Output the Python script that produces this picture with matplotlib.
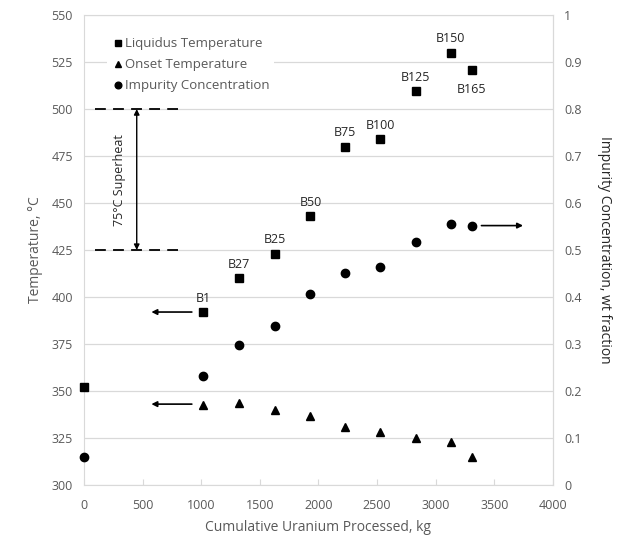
import numpy as np
import matplotlib.pyplot as plt

# data
kg = [0, 1015, 1323, 1629, 1932, 2225, 2527, 2829, 3128, 3308]
liquidus = [352, 392, 410, 423, 443, 480, 484, 509.5, 530, 521]
batch = ['', 'B1', 'B27', 'B25', 'B50', 'B75', 'B100', 'B125', 'B150', 'B165']
onset_kg = [1015, 1323, 1629, 1932, 2225, 2527, 2829, 3128, 3308]
onset = [342.6, 343.8, 340, 336.5, 330.7, 328.2, 325.2, 323, 315]
impurity = [0.059, 0.232, 0.297, 0.338, 0.406, 0.452, 0.464, 0.518, 0.555, 0.552]

gray = '#595959'
plt.rcParams['font.family'] = ['Open Sans', 'DejaVu Sans']

fig = plt.figure(figsize=(6.22, 5.40), dpi=100)
ax = fig.add_axes([0.135, 0.102, 0.754, 0.870])
ax2 = ax.twinx()

ax.set_xlim(0, 4000)
ax.set_ylim(300, 550)
ax2.set_ylim(0, 1)
ax.set_xticks(np.arange(0, 4001, 500))
ax.set_yticks(np.arange(300, 551, 25))
ax2.set_yticks(np.arange(0, 1.01, 0.1))
ax2.set_yticklabels(['0', '0.1', '0.2', '0.3', '0.4', '0.5', '0.6', '0.7', '0.8', '0.9', '1'])

ax.yaxis.grid(True, color='#d9d9d9', lw=0.9)
ax.set_axisbelow(True)
for s in ax.spines.values():
    s.set_color('#d9d9d9')
for k in ('left', 'top', 'bottom'):
    ax2.spines[k].set_visible(False)
ax2.spines['right'].set_color('#d9d9d9')
for a in (ax, ax2):
    a.tick_params(colors=gray, labelsize=9, length=0, pad=8)
ax.tick_params(axis='x', length=4, direction='in', color='#d9d9d9', pad=10)

h1, = ax.plot(kg, liquidus, 's', color='black', ms=6, label='Liquidus Temperature',
              zorder=3, clip_on=False)
h2, = ax.plot(onset_kg, onset, '^', color='black', ms=6, label='Onset Temperature', zorder=3)
h3, = ax2.plot(kg, impurity, 'o', color='black', ms=6, label='Impurity Concentration',
               zorder=3, clip_on=False)

# batch labels
for x, y, b in zip(kg, liquidus, batch):
    if not b:
        continue
    dy = -14 if b == 'B165' else 10
    ax.annotate(b, (x, y), xytext=(0, dy), textcoords='offset points',
                ha='center', va='center', fontsize=9, color='#262626')

# superheat marks
ax.plot([90, 800], [500, 500], color='black', lw=1.3, dashes=(6, 4))
ax.plot([90, 800], [425, 425], color='black', lw=1.3, dashes=(6, 4))
ax.annotate('', xy=(450, 500), xytext=(450, 425),
            arrowprops=dict(arrowstyle='<|-|>', color='black', lw=1, mutation_scale=8,
                            shrinkA=0, shrinkB=0))
ax.text(305, 462, '75°C Superheat', rotation=90, ha='center', va='center', fontsize=9,
        color='#262626')

# axis arrows
arr = dict(arrowstyle='-|>', color='black', lw=1.2, mutation_scale=8, shrinkA=0, shrinkB=0)
ax.annotate('', xy=(575, 392), xytext=(920, 392), arrowprops=arr)
ax.annotate('', xy=(575, 343), xytext=(920, 343), arrowprops=arr)
ax.annotate('', xy=(3745, 438), xytext=(3390, 438), arrowprops=arr)

leg = ax2.legend(handles=[h1, h2, h3], loc='upper left', bbox_to_anchor=(0.035, 0.975),
                 frameon=True, fontsize=9.5, handletextpad=0.1, handlelength=1.0,
                 labelspacing=0.6, borderpad=0.3, markerscale=0.8)
leg.get_frame().set_edgecolor('none')
leg.get_frame().set_facecolor('white')
leg.get_frame().set_alpha(1)
for t in leg.get_texts():
    t.set_color(gray)

ax.set_xlabel('Cumulative Uranium Processed, kg', color=gray, fontsize=10, labelpad=6)
ax.set_ylabel('Temperature, °C', color=gray, fontsize=10, labelpad=6)
ax2.set_ylabel('Impurity Concentration, wt fraction', color='#262626', fontsize=10,
               rotation=270, labelpad=22)

fig.savefig('out.png', dpi=100)
